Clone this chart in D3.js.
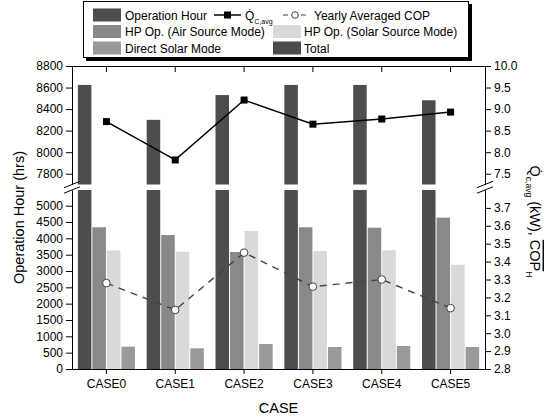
<!DOCTYPE html>
<html>
<head>
<meta charset="utf-8">
<script src="https://cdn.jsdelivr.net/npm/d3@7"></script>
<style>
  body { margin: 0; background: #fff; }
  svg { font-family: Arial, "Liberation Sans", sans-serif; }
  .tick text { font-family: Arial, "Liberation Sans", sans-serif; font-size: 12px; fill: #000; }
  .axis path, .axis line { stroke: #000; stroke-width: 1; }
</style>
</head>
<body>
<svg id="chart"></svg>
<script>
const cases = ['CASE0', 'CASE1', 'CASE2', 'CASE3', 'CASE4', 'CASE5'];
const opHours = [8624, 8300, 8530, 8624, 8624, 8482];
const airHours = [4339, 4103, 3582, 4339, 4326, 4633];
const solarHours = [3628, 3591, 4225, 3613, 3634, 3193];
const directHours = [683, 634, 765, 674, 704, 674];
const qAvg = [8.71, 7.82, 9.21, 8.65, 8.77, 8.93];
const copAvg = [3.28, 3.13, 3.45, 3.26, 3.30, 3.14];

const leftTicksHigh = [7800, 8000, 8200, 8400, 8600, 8800];
const leftTicksLow = [0, 500, 1000, 1500, 2000, 2500, 3000, 3500, 4000, 4500, 5000];
const rightTicksHigh = [7.5, 8.0, 8.5, 9.0, 9.5, 10.0];
const rightTicksLow = [2.8, 2.9, 3.0, 3.1, 3.2, 3.3, 3.4, 3.5, 3.6, 3.7];

const width = 553;
const height = 418;
const plot = { left: 72, right: 485, top: 66, bottom: 369, breakTop: 184.5, breakBottom: 190 };

const colors = { op: '#4d4d4d', air: '#898989', solar: '#d9d9d9', direct: '#9a9a9a' };

const svg = d3.select('#chart').attr('width', width).attr('height', height);

const x0 = d3.scaleBand().domain(cases).range([plot.left, plot.right])
    .paddingInner(0.17).paddingOuter(0.085);
const seriesKeys = ['op', 'air', 'solar', 'direct'];
const x1 = d3.scaleBand().domain(seriesKeys).range([0, x0.bandwidth()]).paddingInner(0.07);
const cx = (c) => x0(c) + x0.bandwidth() / 2;

const yHigh = d3.scaleLinear().domain([7700, 8800]).range([plot.breakTop, plot.top]).clamp(true);
const yLow = d3.scaleLinear().domain([0, 5480]).range([plot.bottom, plot.breakBottom]).clamp(true);
const rHigh = d3.scaleLinear().domain([7.25, 10]).range([plot.breakTop, plot.top]);
const rLow = d3.scaleLinear().domain([2.8, 3.8]).range([plot.bottom, plot.breakBottom]);

// bars, lower panel
const rows = cases.map((c, i) => ({
    c, op: opHours[i], air: airHours[i], solar: solarHours[i], direct: directHours[i]
}));

const low = svg.append('g');
rows.forEach((d) => {
    seriesKeys.forEach((k) => {
        low.append('rect')
            .attr('x', x0(d.c) + x1(k))
            .attr('width', x1.bandwidth())
            .attr('y', yLow(d[k]))
            .attr('height', plot.bottom - yLow(d[k]))
            .attr('fill', colors[k]);
    });
});

// bars, upper panel (only operation hour reaches it)
svg.append('g').selectAll('rect')
    .data(rows)
    .join('rect')
    .attr('x', (d) => x0(d.c) + x1('op'))
    .attr('width', x1.bandwidth())
    .attr('y', (d) => yHigh(d.op))
    .attr('height', (d) => plot.breakTop - yHigh(d.op))
    .attr('fill', colors.op);

// axes
const fmt0 = d3.format('d');
const fmt1 = d3.format('.1f');
svg.append('g').attr('class', 'axis').attr('transform', `translate(${plot.left},0)`)
    .call(d3.axisLeft(yHigh).tickValues(leftTicksHigh).tickFormat(fmt0).tickSize(6).tickSizeOuter(0).tickPadding(3));
svg.append('g').attr('class', 'axis').attr('transform', `translate(${plot.left},0)`)
    .call(d3.axisLeft(yLow).tickValues(leftTicksLow).tickFormat(fmt0).tickSize(6).tickSizeOuter(0).tickPadding(3));
svg.append('g').attr('class', 'axis').attr('transform', `translate(${plot.right},0)`)
    .call(d3.axisRight(rHigh).tickValues(rightTicksHigh).tickFormat(fmt1).tickSize(6).tickSizeOuter(0).tickPadding(3));
svg.append('g').attr('class', 'axis').attr('transform', `translate(${plot.right},0)`)
    .call(d3.axisRight(rLow).tickValues(rightTicksLow).tickFormat(fmt1).tickSize(6).tickSizeOuter(0).tickPadding(3));
svg.append('g').attr('class', 'axis').attr('transform', `translate(0,${plot.bottom})`)
    .call(d3.axisBottom(x0).tickSize(5).tickSizeOuter(0).tickPadding(5));
svg.append('g').attr('class', 'axis').attr('transform', `translate(0,${plot.top})`)
    .call(d3.axisTop(x0).tickSize(-6).tickSizeOuter(0).tickFormat(''));

// break marks
[plot.left, plot.right].forEach((ax) => {
    [plot.breakTop, plot.breakBottom].forEach((by) => {
        svg.append('line')
            .attr('x1', ax - 8).attr('y1', by + 3.2)
            .attr('x2', ax + 8).attr('y2', by - 3.2)
            .attr('stroke', '#000').attr('stroke-width', 1);
    });
});

// Q line
const qLine = d3.line().x((d, i) => cx(cases[i])).y((d) => rHigh(d));
svg.append('path').datum(qAvg)
    .attr('d', qLine).attr('fill', 'none').attr('stroke', '#000').attr('stroke-width', 1.5);
svg.append('g').selectAll('rect')
    .data(qAvg)
    .join('rect')
    .attr('x', (d, i) => cx(cases[i]) - 3.5)
    .attr('y', (d) => rHigh(d) - 3.5)
    .attr('width', 7).attr('height', 7)
    .attr('fill', '#000');

// COP line
const copLine = d3.line().x((d, i) => cx(cases[i])).y((d) => rLow(d));
svg.append('path').datum(copAvg)
    .attr('d', copLine).attr('fill', 'none').attr('stroke', '#444')
    .attr('stroke-width', 1.4).attr('stroke-dasharray', '7,6');
svg.append('g').selectAll('circle')
    .data(copAvg)
    .join('circle')
    .attr('cx', (d, i) => cx(cases[i]))
    .attr('cy', (d) => rLow(d))
    .attr('r', 3.8)
    .attr('fill', '#fff').attr('stroke', '#444').attr('stroke-width', 1);

// axis titles
svg.append('text')
    .attr('transform', `translate(24,${(plot.top + plot.bottom) / 2}) rotate(-90)`)
    .attr('text-anchor', 'middle').attr('font-size', 14.5)
    .text('Operation Hour (hrs)');

svg.append('text')
    .attr('x', (plot.left + plot.right) / 2).attr('y', 413)
    .attr('text-anchor', 'middle').attr('font-size', 14.5)
    .text('CASE');

const rt = svg.append('text')
    .attr('transform', `translate(530,${(plot.top + plot.bottom) / 2 + 4}) rotate(90)`)
    .attr('text-anchor', 'middle').attr('font-size', 14.5);
rt.append('tspan').text('Q\u0307');
rt.append('tspan').attr('font-size', 8.5).attr('dy', 4).text('c,avg');
rt.append('tspan').attr('dy', -4).text(' (kW), ');
rt.append('tspan').style('text-decoration', 'overline').text('COP');
rt.append('tspan').attr('font-size', 8.5).attr('dy', 4).text('H');

// legend
const lg = svg.append('g');
lg.append('rect').attr('x', 86).attr('y', 4).attr('width', 386).attr('height', 57).attr('fill', '#000');
lg.append('rect').attr('x', 83.5).attr('y', 1.5).attr('width', 385).attr('height', 56)
    .attr('fill', '#fff').attr('stroke', '#000').attr('stroke-width', 1);

const rowY = [15, 31.5, 48];
const swatch = (x, y, color) => lg.append('rect')
    .attr('x', x).attr('y', y - 6.5).attr('width', 28).attr('height', 13).attr('fill', color);
const label = (x, y, t) => lg.append('text').attr('x', x).attr('y', y + 4.5)
    .attr('font-size', 12).text(t);

swatch(93, rowY[0], colors.op); label(125, rowY[0], 'Operation Hour');
swatch(93, rowY[1], colors.air); label(125, rowY[1], 'HP Op. (Air Source Mode)');
swatch(93, rowY[2], colors.direct); label(125, rowY[2], 'Direct Solar Mode');
swatch(273, rowY[1], colors.solar); label(304, rowY[1], 'HP Op. (Solar Source Mode)');
swatch(273, rowY[2], colors.op); label(304, rowY[2], 'Total');

lg.append('line').attr('x1', 214).attr('x2', 241).attr('y1', rowY[0]).attr('y2', rowY[0])
    .attr('stroke', '#000').attr('stroke-width', 1.5);
lg.append('rect').attr('x', 224).attr('y', rowY[0] - 3.5).attr('width', 7).attr('height', 7).attr('fill', '#000');
const qt = lg.append('text').attr('x', 245).attr('y', rowY[0] + 4.5).attr('font-size', 12);
qt.append('tspan').text('Q\u0307');
qt.append('tspan').attr('font-size', 7).attr('dy', 4).text('C,avg');

lg.append('line').attr('x1', 283).attr('x2', 306).attr('y1', rowY[0]).attr('y2', rowY[0])
    .attr('stroke', '#444').attr('stroke-width', 1.2).attr('stroke-dasharray', '5,4');
lg.append('circle').attr('cx', 295).attr('cy', rowY[0]).attr('r', 3.3)
    .attr('fill', '#fff').attr('stroke', '#444');
label(314, rowY[0], 'Yearly Averaged COP');
</script>
</body>
</html>
